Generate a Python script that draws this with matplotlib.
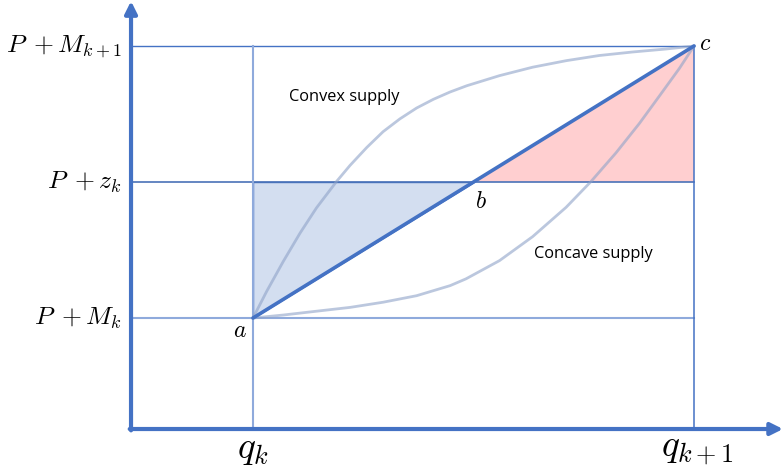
import numpy as np
import matplotlib
matplotlib.use("Agg")
import matplotlib.pyplot as plt

plt.rcParams['mathtext.fontset'] = 'cm'

# quantities normalised: q_k = 0, q_{k+1} = 1 ; P+M_k = 0, P+M_{k+1} = 1
q_ticks = [0.0, 1.0]
q_labels = [r'$q_k$', r'$q_{k+1}$']
p_ticks = [0.0, 0.5, 1.0]
p_labels = [r'$P\;+M_k$', r'$P\;+z_k$', r'$P\;+M_{k+1}$']

# supply curves
convex_q = [0, 0.031, 0.069, 0.107, 0.144, 0.190, 0.220, 0.258, 0.295, 0.333,
            0.371, 0.409, 0.447, 0.485, 0.559, 0.634, 0.710, 0.785, 0.861,
            0.937, 1.0]
convex_p = [0, 0.098, 0.209, 0.313, 0.405, 0.503, 0.561, 0.627, 0.685, 0.732,
            0.772, 0.804, 0.831, 0.854, 0.891, 0.922, 0.946, 0.965, 0.978,
            0.989, 1.0]
concave_q = [0, 0.069, 0.144, 0.220, 0.295, 0.371, 0.447, 0.483, 0.559, 0.634,
             0.710, 0.766, 0.823, 0.876, 0.921, 0.967, 1.0]
concave_p = [0, 0.011, 0.025, 0.039, 0.058, 0.082, 0.119, 0.144, 0.211, 0.299,
             0.407, 0.501, 0.607, 0.715, 0.815, 0.918, 1.0]

dark = '#4472C4'
light = '#8FAADC'

fig = plt.figure(figsize=(7.83, 4.74), dpi=100)
ax = fig.add_axes([0, 0, 1, 1])
ax.set_xlim(-0.5737, 1.2018)
ax.set_ylim(-0.5735, 1.1691)
ax.axis('off')

x0, y0 = -0.2766, -0.4081
qa, qc = q_ticks
pa, pz, pc = p_ticks
qb = np.interp(pz, [pa, pc], [qa, qc])

# shaded triangles
ax.fill([qa, qa, qb], [pa, pz, pz], color='#D3DEF0', ec=dark, lw=1, zorder=1)
ax.fill([qb, qc, qc], [pz, pz, pc], color='#FFCFD0', lw=0, zorder=1)

# guide lines
ax.plot([x0, qc], [pc, pc], color=dark, lw=1, zorder=2)
ax.plot([x0, qc], [pz, pz], color='#4A72B8', lw=1.2, zorder=2)
ax.plot([x0, qc], [pa, pa], color=light, lw=1.5, zorder=2)
ax.plot([qa, qa], [y0, pc], color=light, lw=1.5, zorder=2)
ax.plot([qc, qc], [y0, pc], color=dark, lw=1.1, zorder=2)

# supply curves
curve = dict(color='#8FA3C8', alpha=0.6, lw=2, zorder=3,
             solid_joinstyle='round')
ax.plot(convex_q, convex_p, **curve)
ax.plot(concave_q, concave_p, **curve)

# linear supply a -> c
ax.plot([qa, qc], [pa, pc], color=dark, lw=2.6, zorder=4, solid_capstyle='round')

# axes arrows
arrow = dict(arrowstyle='-|>', color=dark, lw=3, mutation_scale=18,
             shrinkA=0, shrinkB=0)
ax.annotate('', xy=(x0, 1.165), xytext=(x0, y0 - 0.005), arrowprops=arrow)
ax.annotate('', xy=(1.2018, y0), xytext=(x0 - 0.003, y0), arrowprops=arrow)

# tick labels
for p, lab in zip(p_ticks, p_labels):
    ax.text(-0.297, p, lab, ha='right', va='center', fontsize=18.5)
for q, lab in zip(q_ticks, q_labels):
    ax.text(q + (0.008 if q > 0.5 else 0), -0.48, lab, ha='center',
            va='center', fontsize=27)

# point labels
ax.text(qa - 0.03, pa - 0.045, r'$a$', ha='center', va='center', fontsize=17)
ax.text(qb + 0.016, pz - 0.07, r'$b$', ha='center', va='center', fontsize=17)
ax.text(qc + 0.026, pc + 0.01, r'$c$', ha='center', va='center', fontsize=17)

ax.text(0.208, 0.812, 'Convex supply', ha='center', va='center',
        fontsize=11.8, family='Open Sans')
ax.text(0.771, 0.235, 'Concave supply', ha='center', va='center',
        fontsize=11.8, family='Open Sans')

fig.savefig('out.png', dpi=100)
